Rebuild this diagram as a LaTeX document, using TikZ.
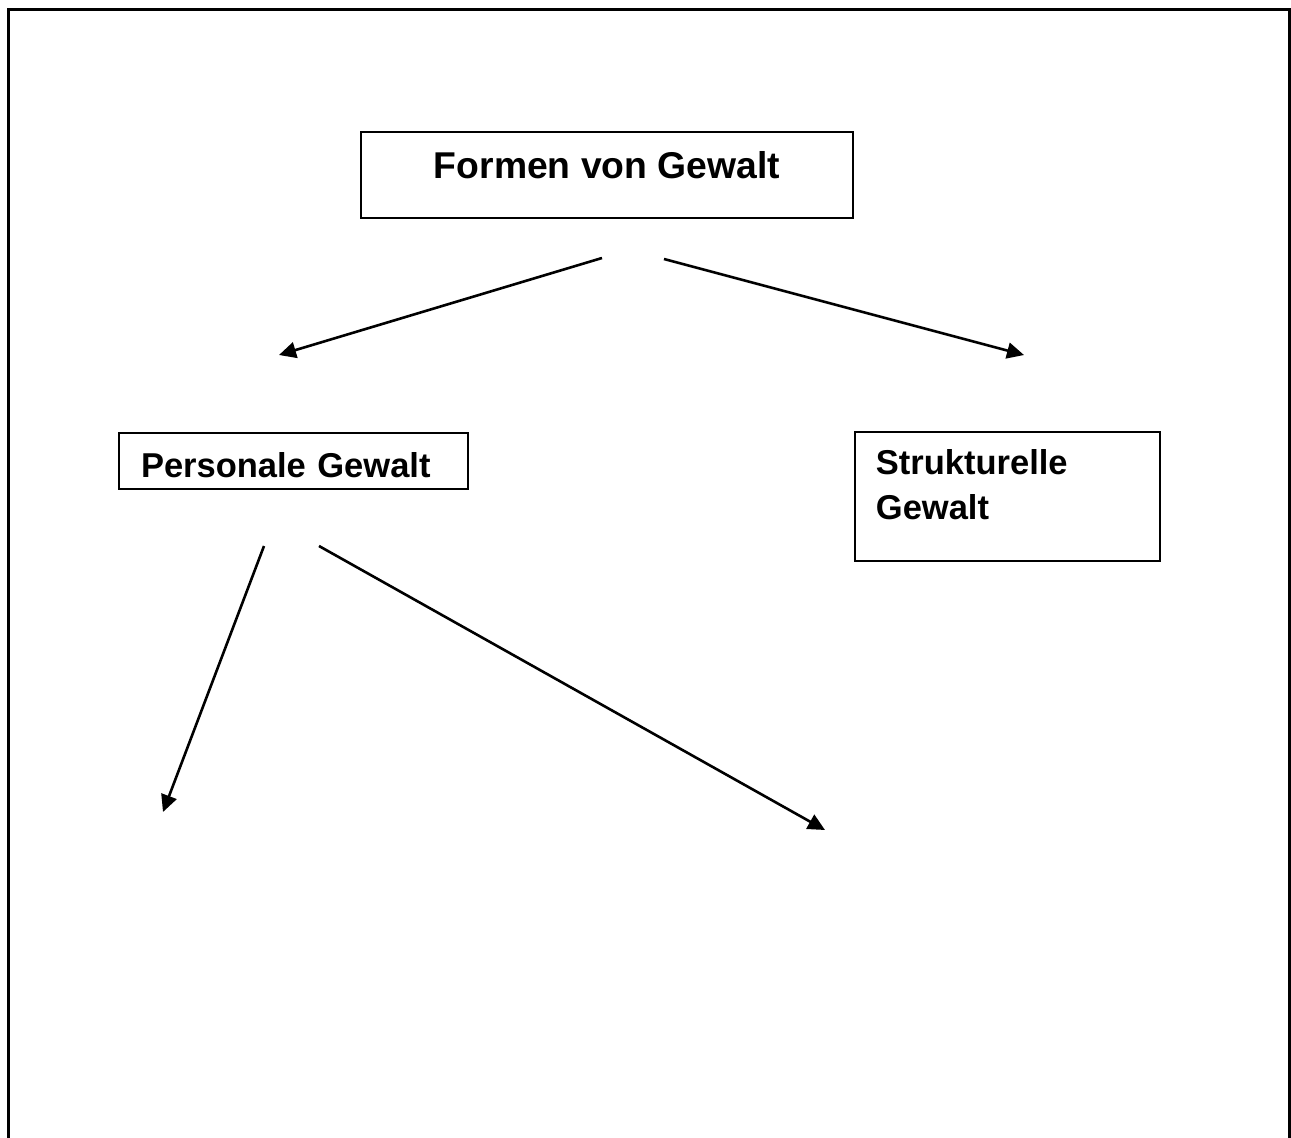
\documentclass[tikz,border=0pt]{standalone}
\usepackage{fontspec}
\setmainfont{Liberation Sans}
\usetikzlibrary{arrows.meta}
\tikzset{
  kasten/.style={draw, line width=2.6pt, inner sep=0pt},
  pfeil/.style={line width=2.6pt, -{Triangle[length=17pt, width=16pt]}},
  gross/.style={font=\fontsize{37.3}{45}\selectfont\bfseries},
  klein/.style={font=\fontsize{34.5}{45}\selectfont\bfseries},
}
\begin{document}
\begin{tikzpicture}[x=1pt, y=-1pt]
  \useasboundingbox (0,0) rectangle (1291,1138);
  % frame
  \draw[line width=3pt] (8,1145) -- (8,9) -- (1289,9) -- (1289,1145);

  % boxes
  \node[kasten, gross, minimum width=492pt, text height=46.5pt, text depth=39.5pt]
    (formen) at (607,175) {Formen von Gewalt};
  \node[kasten, klein, inner xsep=22pt, text width=305pt, align=left,
    text height=44.5pt, text depth=11.5pt]
    (personal) at (293.5,461) {Personale Gewalt};
  \node[kasten, minimum width=305pt, minimum height=129pt]
    (struktur) at (1007.5,496.5) {};
  \node[klein, anchor=north west, inner sep=0pt, align=left]
    (strukturText) at ([shift={(22,18.6)}]struktur.north west) {Strukturelle\\Gewalt};

  % arrow ends
  \coordinate (a1s) at (602,258);
  \coordinate (a1e) at (279,355);
  \coordinate (a2s) at (664,259);
  \coordinate (a2e) at (1024,355);
  \coordinate (a3s) at (264,546);
  \coordinate (a3e) at (163,812);
  \coordinate (a4s) at (319,546);
  \coordinate (a4e) at (825,830);

  \draw[pfeil] (a1s) -- (a1e);
  \draw[pfeil] (a2s) -- (a2e);
  \draw[pfeil] (a3s) -- (a3e);
  \draw[pfeil] (a4s) -- (a4e);
\end{tikzpicture}
\end{document}
